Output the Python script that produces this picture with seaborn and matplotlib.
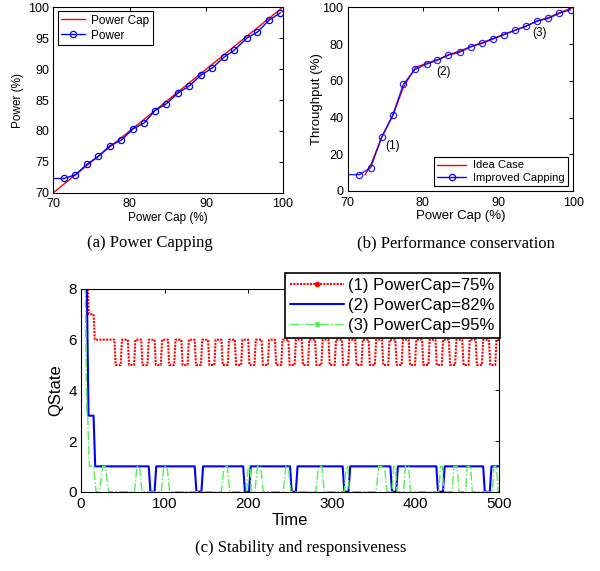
import matplotlib
matplotlib.use("Agg")
import matplotlib.pyplot as plt
import seaborn as sns
import pandas as pd
from matplotlib.lines import Line2D

# ---------------- data ----------------
# (a) Power capping
cap_a = [70, 100]
cap_a_y = [70, 100]
pow_x = [69.9, 71.4, 72.9, 74.4, 75.9, 77.4, 78.9, 80.4, 81.9, 83.3, 84.8, 86.3,
         87.8, 89.3, 90.8, 92.3, 93.7, 95.3, 96.7, 98.2, 99.7]
pow_y = [72.3, 72.3, 72.9, 74.6, 75.9, 77.6, 78.5, 80.3, 81.3, 83.3, 84.4, 86.1,
         87.3, 89.0, 90.2, 91.9, 93.1, 95.0, 96.0, 97.9, 99.1]

# (b) Performance conservation
ideal_x = [72.3, 73.1, 74.5, 76.0, 77.4, 79.0, 80.5, 82.0, 83.4, 84.9, 86.4, 87.9,
           89.3, 90.8, 92.3, 93.7, 95.2, 96.7, 98.1, 100.0]
ideal_y = [8.7, 14.5, 29.0, 41.0, 56.5, 67.2, 69.6, 71.6, 74.2, 76.2, 78.6, 80.8,
           83.0, 85.3, 87.6, 89.8, 92.4, 94.4, 96.9, 100.0]
impr_x = [69.9, 71.55, 73.06, 74.5, 76.0, 77.4, 78.95, 80.5, 81.9, 83.4, 84.9, 86.4,
          87.9, 89.3, 90.8, 92.3, 93.7, 95.2, 96.7, 98.1, 99.65]
impr_y = [8.9, 8.9, 12.7, 29.2, 41.4, 58.1, 66.2, 69.1, 71.1, 74.0, 75.5, 78.6,
          80.4, 82.7, 85.1, 87.6, 89.6, 92.7, 94.0, 96.7, 98.7]
notes_b = ["(1)", "(2)", "(3)"]
notes_b_x = [75.9, 82.8, 95.5]
notes_b_y = [24.7, 65.0, 85.8]

# (c) Stability and responsiveness
red_t = [0, 8, 9.5, 15, 16.5,
         40, 41.5, 47.5, 49, 56, 57.5, 63.5, 65, 72, 73.5, 79.5, 81,
         88, 89.5, 95.5, 97, 104, 105.5, 111.5, 113, 120, 121.5, 127.5, 129,
         136, 137.5, 143.5, 145, 152, 153.5, 159.5, 161, 168, 169.5, 175.5, 177,
         184, 185.5, 191.5, 193, 200, 201.5, 207.5, 209, 216, 217.5, 223.5, 225,
         232, 233.5, 239.5, 241, 248, 249.5, 255.5, 257, 264, 265.5, 271.5, 273,
         280, 281.5, 287.5, 289, 296, 297.5, 303.5, 305, 312, 313.5, 319.5, 321,
         328, 329.5, 335.5, 337, 344, 345.5, 351.5, 353, 360, 361.5, 367.5, 369,
         376, 377.5, 383.5, 385, 392, 393.5, 399.5, 401, 408, 409.5, 415.5, 417,
         424, 425.5, 431.5, 433, 440, 441.5, 447.5, 449, 456, 457.5, 463.5, 465,
         472, 473.5, 479.5, 481, 488, 489.5, 495.5, 497, 500]
red_v = [8, 8, 7, 7, 6,
         6, 5, 5, 6, 6, 5, 5, 6, 6, 5, 5, 6,
         6, 5, 5, 6, 6, 5, 5, 6, 6, 5, 5, 6,
         6, 5, 5, 6, 6, 5, 5, 6, 6, 5, 5, 6,
         6, 5, 5, 6, 6, 5, 5, 6, 6, 5, 5, 6,
         6, 5, 5, 6, 6, 5, 5, 6, 6, 5, 5, 6,
         6, 5, 5, 6, 6, 5, 5, 6, 6, 5, 5, 6,
         6, 5, 5, 6, 6, 5, 5, 6, 6, 5, 5, 6,
         6, 5, 5, 6, 6, 5, 5, 6, 6, 5, 5, 6,
         6, 5, 5, 6, 6, 5, 5, 6, 6, 5, 5, 6,
         6, 5, 5, 6, 6, 5, 5, 6, 6]
blue_t = [0, 7, 9, 15, 17, 81, 83, 88, 90, 136, 138, 144, 146, 194, 196, 201, 203,
          250, 252, 257, 259, 313, 315, 320, 322, 370, 372, 377, 379, 425, 427, 433, 435,
          481, 483, 489, 491, 500]
blue_v = [8, 8, 3, 3, 1, 1, 0, 0, 1, 1, 0, 0, 1, 1, 0, 0, 1,
          1, 0, 0, 1, 1, 0, 0, 1, 1, 0, 0, 1, 1, 0, 0, 1,
          1, 0, 0, 1, 1]
green_t = [0, 5, 7, 8, 10, 15, 18,
           22, 26, 29, 33, 64, 67, 70, 73, 96, 99, 103, 106,
           168, 171, 175, 178, 198, 200, 202, 204, 208, 211, 215, 218,
           242, 245, 248, 251, 281, 284, 288, 291, 315, 317, 319, 321,
           353, 356, 363, 366, 372, 374, 376, 378, 386, 388, 392, 394,
           428, 430, 432, 434, 444, 446, 450, 452, 460, 462, 466, 468,
           492, 494, 497, 499, 500]
green_v = [8, 8, 3, 3, 1, 1, 0,
           0, 1, 1, 0, 0, 1, 1, 0, 0, 1, 1, 0,
           0, 1, 1, 0, 0, 1, 1, 0, 0, 1, 1, 0,
           0, 1, 1, 0, 0, 1, 1, 0, 0, 1, 1, 0,
           0, 1, 1, 0, 0, 1, 1, 0, 0, 1, 1, 0,
           0, 1, 1, 0, 0, 1, 1, 0, 0, 1, 1, 0,
           0, 1, 1, 0, 0]
series_c = ["(1) PowerCap=75%", "(2) PowerCap=82%", "(3) PowerCap=95%"]

# ---------------- style ----------------
sns.set_theme(style="white")
plt.rcParams["font.family"] = ["Liberation Sans", "DejaVu Sans"]
plt.rcParams.update({
    "axes.edgecolor": "black", "axes.linewidth": 0.8,
    "xtick.color": "black", "ytick.color": "black", "text.color": "black",
    "axes.labelcolor": "black",
    "xtick.direction": "in", "ytick.direction": "in",
    "xtick.top": True, "ytick.right": True,
    "xtick.major.size": 3, "ytick.major.size": 3,
    "xtick.major.width": 0.7, "ytick.major.width": 0.7,
    "xtick.major.pad": 4, "ytick.major.pad": 3,
})

fig = plt.figure(figsize=(6, 5.71), dpi=100)
ax_a = fig.add_axes([0.0888, 0.6625, 0.3823, 0.3247])
ax_b = fig.add_axes([0.5795, 0.6655, 0.376, 0.3217])
ax_c = fig.add_axes([0.135, 0.1389, 0.6967, 0.355])

GREEN = "#55ee55"

# ---------------- (a) ----------------
sns.lineplot(x=cap_a, y=cap_a_y, ax=ax_a, color="red", linewidth=1.0,
             estimator=None, sort=False)
sns.lineplot(x=pow_x, y=pow_y, ax=ax_a, color="blue", linewidth=1.0,
             marker="o", markersize=4.5, markerfacecolor="none",
             markeredgecolor="blue", markeredgewidth=0.9, markevery=(1, 1),
             estimator=None, sort=False)
ax_a.set_xlim(70, 100)
ax_a.set_ylim(70, 100)
ax_a.set_xticks([70, 80, 90, 100])
ax_a.set_yticks([70, 75, 80, 85, 90, 95, 100])
ax_a.tick_params(labelsize=9)
ax_a.set_xlabel("Power Cap (%)", fontsize=8.5, labelpad=1)
ax_a.set_ylabel("Power (%)", fontsize=8.5, labelpad=3)
h_a = [Line2D([], [], color="red", lw=1.0),
       Line2D([], [], color="blue", lw=1.0, marker="o", ms=4.5, mfc="none", mew=0.9)]
leg_a = ax_a.legend(h_a, ["Power Cap", "Power"], loc="upper left",
                    bbox_to_anchor=(0.02, 0.98), borderaxespad=0, fontsize=8.5,
                    frameon=True, fancybox=False, framealpha=1, edgecolor="black",
                    handlelength=2.0, handletextpad=0.5, borderpad=0.3,
                    labelspacing=0.25, numpoints=1)
leg_a.get_frame().set_linewidth(0.8)

# ---------------- (b) ----------------
sns.lineplot(x=ideal_x, y=ideal_y, ax=ax_b, color="red", linewidth=1.0,
             estimator=None, sort=False)
sns.lineplot(x=impr_x, y=impr_y, ax=ax_b, color="blue", linewidth=1.0,
             marker="o", markersize=4.5, markerfacecolor="none",
             markeredgecolor="blue", markeredgewidth=0.9, markevery=(1, 1),
             estimator=None, sort=False, alpha=0.85)
for s, x, y in zip(notes_b, notes_b_x, notes_b_y):
    ax_b.text(x, y, s, fontsize=8.5, ha="center", va="center")
ax_b.set_xlim(70, 100)
ax_b.set_ylim(0, 100)
ax_b.set_xticks([70, 80, 90, 100])
ax_b.set_yticks([0, 20, 40, 60, 80, 100])
ax_b.tick_params(labelsize=9)
ax_b.set_xlabel("Power Cap (%)", fontsize=9.5, labelpad=1)
ax_b.set_ylabel("Throughput (%)", fontsize=9.5, labelpad=0)
h_b = [Line2D([], [], color="red", lw=1.0),
       Line2D([], [], color="blue", lw=1.0, marker="o", ms=4.5, mfc="none", mew=0.9)]
leg_b = ax_b.legend(h_b, ["Idea Case", "Improved Capping"], loc="lower right",
                    bbox_to_anchor=(0.975, 0.027), borderaxespad=0, fontsize=8,
                    frameon=True, fancybox=False, framealpha=1, edgecolor="black",
                    handlelength=2.6, handletextpad=0.6, borderpad=0.3,
                    labelspacing=0.2, numpoints=1)
leg_b.get_frame().set_linewidth(0.8)

# ---------------- (c) ----------------
df_r = pd.DataFrame({"t": red_t, "v": red_v})
df_b = pd.DataFrame({"t": blue_t, "v": blue_v})
df_g = pd.DataFrame({"t": green_t, "v": green_v})
sns.lineplot(data=df_r, x="t", y="v", ax=ax_c, color="red", linewidth=1.5,
             linestyle=(0, (1, 0.6)), estimator=None, sort=False)
sns.lineplot(data=df_b, x="t", y="v", ax=ax_c, color="blue", linewidth=1.5,
             estimator=None, sort=False)
sns.lineplot(data=df_g, x="t", y="v", ax=ax_c, color=GREEN, linewidth=1.0,
             linestyle="-.", estimator=None, sort=False)
ax_c.set_xlim(0, 500)
ax_c.set_ylim(0, 8)
ax_c.set_xticks([0, 100, 200, 300, 400, 500])
ax_c.set_yticks([0, 2, 4, 6, 8])
ax_c.tick_params(labelsize=11)
ax_c.set_xlabel("Time", fontsize=12, labelpad=1)
ax_c.set_ylabel("QState", fontsize=12, labelpad=4)
h_c = [Line2D([], [], color="red", lw=1.5, ls=(0, (1, 0.6)), marker=".", ms=6),
       Line2D([], [], color="blue", lw=1.5),
       Line2D([], [], color=GREEN, lw=1.0, ls="-.", marker=".", ms=6)]
leg_c = ax_c.legend(h_c, series_c, loc="upper right",
                    bbox_to_anchor=(500 / 600, 1 - 272.7 / 571),
                    bbox_transform=fig.transFigure, borderaxespad=0, fontsize=12,
                    frameon=True, fancybox=False, framealpha=1, edgecolor="black",
                    handlelength=3.2, handletextpad=0.3, borderpad=0.3,
                    labelspacing=0.3, numpoints=1)
leg_c.get_frame().set_linewidth(1.2)
leg_c.set_zorder(10)

# ---------------- captions ----------------
cap_font = dict(family=["Liberation Serif", "DejaVu Serif"], fontsize=12,
                ha="center", va="center")
fig.text(150 / 600, 1 - 243 / 571, "(a) Power Capping", **cap_font)
fig.text(456 / 600, 1 - 243 / 571, "(b) Performance conservation", **cap_font)
fig.text(301 / 600, 1 - 548 / 571, "(c) Stability and responsiveness", **cap_font)

fig.savefig("out.png", dpi=100)
